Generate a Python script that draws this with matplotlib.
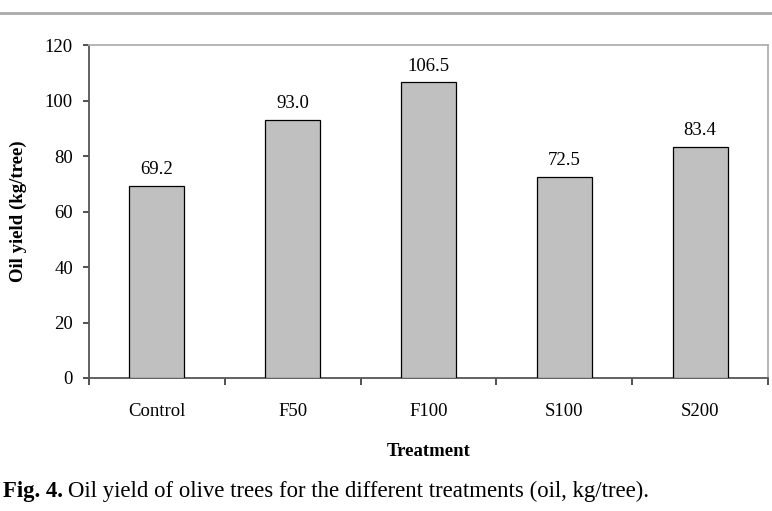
import matplotlib
matplotlib.use("Agg")
import matplotlib.pyplot as plt

categories = ["Control", "F50", "F100", "S100", "S200"]
values = [69.2, 93.0, 106.5, 72.5, 83.4]
yticks = [0, 20, 40, 60, 80, 100, 120]

plt.rcParams['font.family'] = ['Liberation Serif', 'DejaVu Serif']
FS = 13.5
CFS = 16.4

W, H = 772, 511
L, R, T, B = 89, 768, 45, 378

fig = plt.figure(figsize=(W / 100, H / 100), dpi=100)
ax = fig.add_axes([L / W, 1 - B / H, (R - L) / W, (B - T) / H])

x = list(range(len(categories)))
ax.bar(x, values, width=0.405, color="#C0C0C0", edgecolor="black", linewidth=0.9, zorder=3)
for xi, v in zip(x, values):
    ax.annotate(f"{v:.1f}", (xi, v), xytext=(0, 8.6), textcoords="offset points",
                ha="center", va="baseline", fontsize=FS)

ax.set_xlim(-0.5, len(categories) - 0.5)
ax.set_ylim(0, 120)
ax.set_yticks(yticks)
ax.set_yticklabels([str(t) for t in yticks], fontsize=FS)
ax.set_xticks([i + 0.5 for i in range(-1, len(categories))])
ax.set_xticklabels([])
ax.set_xticks(x, minor=True)
ax.set_xticklabels(categories, minor=True, fontsize=FS)
ax.tick_params(axis="x", which="minor", length=0, pad=18)
ax.tick_params(axis="x", which="major", length=5, width=1.2, direction="out", color="#333333")
ax.tick_params(axis="y", length=4.5, width=1.2, direction="out", color="#333333", pad=7)

for s in ["top", "right"]:
    ax.spines[s].set_color("#B0B0B0")
    ax.spines[s].set_linewidth(1.3)
for s in ["left", "bottom"]:
    ax.spines[s].set_color("#555555")
    ax.spines[s].set_linewidth(1.3)

ax.set_ylabel("Oil yield (kg/tree)", fontsize=FS, fontweight="bold")
ax.yaxis.set_label_coords((18 - L) / (R - L), 0.5)
ax.set_xlabel("Treatment", fontsize=FS, fontweight="bold")
ax.xaxis.set_label_coords(0.5, -(451 - B) / (B - T))
ax.xaxis.label.set_va("center")
ax.yaxis.label.set_va("center")

fig.add_artist(plt.Line2D([0, 1], [1 - 13 / H, 1 - 13 / H], color="#AAAAAA", linewidth=2))

t1 = fig.text(3 / W, 1 - 491 / H, "Fig. 4.", fontsize=CFS, fontweight="bold", va="center", ha="left")
fig.canvas.draw()
bb = t1.get_window_extent(fig.canvas.get_renderer())
fig.text((bb.x1 + 5) / W, 1 - 491 / H,
         "Oil yield of olive trees for the different treatments (oil, kg/tree).",
         fontsize=CFS, va="center", ha="left")

fig.savefig("out.png", dpi=100)
